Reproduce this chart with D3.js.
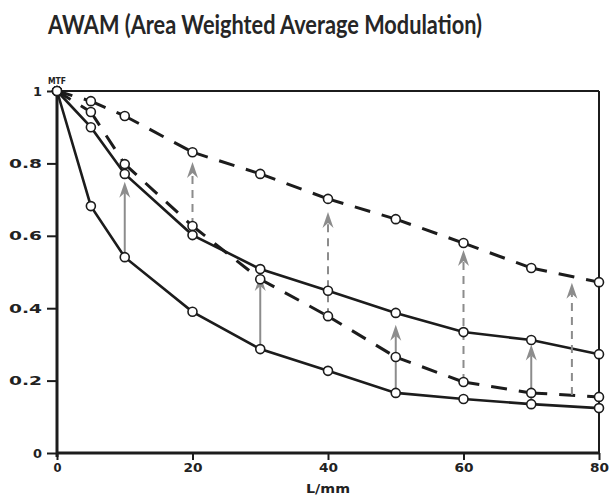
<!DOCTYPE html>
<html>
<head>
<meta charset="utf-8">
<script src="https://cdn.jsdelivr.net/npm/d3@7"></script>
<style>
  html, body { margin: 0; padding: 0; background: #fff; }
  svg { display: block; }
</style>
</head>
<body>
<svg id="chart" width="609" height="495"></svg>
<script>
// ---- data ----
const freqs = [0, 5, 10, 20, 30, 40, 50, 60, 70, 80];
const upperDashed = [1, 0.972, 0.931, 0.831, 0.771, 0.702, 0.646, 0.580, 0.511, 0.472];
const middleDashed = [1, 0.942, 0.798, 0.627, 0.480, 0.378, 0.265, 0.196, 0.166, 0.155];
const upperSolid = [1, 0.900, 0.771, 0.602, 0.508, 0.448, 0.387, 0.334, 0.312, 0.273];
const lowerSolid = [1, 0.682, 0.541, 0.390, 0.287, 0.227, 0.166, 0.149, 0.135, 0.124];

const solidArrowX = [10, 30, 50, 70];
const solidArrowFrom = [0.541, 0.287, 0.166, 0.135];
const solidArrowTo = [0.749, 0.492, 0.354, 0.300];
const dashedArrowX = [20, 40, 60, 76];
const dashedArrowFrom = [0.627, 0.378, 0.196, 0.160];
const dashedArrowTo = [0.804, 0.666, 0.561, 0.470];

const xTicks = [0, 20, 40, 60, 80];
const yTicks = [0, 0.2, 0.4, 0.6, 0.8, 1];
const yTickLabels = ["0", "0.2", "0.4", "0.6", "0.8", "1"];
const titleText = "AWAM (Area Weighted Average Modulation)";
const xLabel = "L/mm";
const yLabel = "MTF";

// ---- setup ----
const svg = d3.select("#chart");
const ink = "#1c1c1c";
const gray = "#8c8c8c";
const x = d3.scaleLinear().domain([0, 80]).range([57, 599]);
const y = d3.scaleLinear().domain([0, 1]).range([453, 91]);

// title
svg.append("text")
  .attr("x", 48).attr("y", 34)
  .attr("textLength", 434).attr("lengthAdjust", "spacingAndGlyphs")
  .style("font-family", "Lato, 'DejaVu Sans', sans-serif")
  .style("font-weight", "700").style("font-size", "26px")
  .attr("fill", "#262626")
  .text(titleText);

// frame top/right
svg.append("line").attr("x1", x(0)).attr("x2", x(80)).attr("y1", y(1)).attr("y2", y(1))
  .attr("stroke", ink).attr("stroke-width", 2);
svg.append("line").attr("x1", x(80)).attr("x2", x(80)).attr("y1", y(1)).attr("y2", y(0))
  .attr("stroke", ink).attr("stroke-width", 2);

// y axis
const yAxis = d3.axisLeft(y).tickValues(yTicks)
  .tickFormat((d, i) => yTickLabels[i]).tickSize(10).tickPadding(5);
const gy = svg.append("g").attr("transform", `translate(${x(0)},0)`).call(yAxis);
gy.select(".domain").attr("stroke", ink).attr("stroke-width", 3)
  .attr("d", `M0,${y(1)}V${y(0) + 4}`);
gy.selectAll(".tick line").attr("stroke", ink).attr("stroke-width", 2);
gy.selectAll(".tick text")
  .style("font-family", "'DejaVu Sans', sans-serif")
  .style("font-weight", "700").style("font-size", "13px")
  .attr("fill", "#222")
  .attr("textLength", (d, i) => yTickLabels[i].length === 1 ? 9 : 33)
  .attr("lengthAdjust", "spacingAndGlyphs");

// x axis
const xAxis = d3.axisBottom(x).tickValues(xTicks).tickFormat(d3.format("d"))
  .tickSize(7).tickPadding(3);
const gx = svg.append("g").attr("transform", `translate(0,${y(0)})`).call(xAxis);
gx.select(".domain").attr("stroke", ink).attr("stroke-width", 3)
  .attr("d", `M${x(0)},0H${x(80)}`);
gx.selectAll(".tick line").attr("stroke", ink).attr("stroke-width", 2);
gx.selectAll(".tick text")
  .style("font-family", "'DejaVu Sans', sans-serif")
  .style("font-weight", "700").style("font-size", "12px")
  .attr("fill", "#222")
  .attr("textLength", d => String(d).length === 1 ? 8 : 19)
  .attr("lengthAdjust", "spacingAndGlyphs");

// axis labels
svg.append("text").attr("x", 328).attr("y", 493).attr("text-anchor", "middle")
  .attr("textLength", 44).attr("lengthAdjust", "spacingAndGlyphs")
  .style("font-family", "'DejaVu Sans', sans-serif")
  .style("font-weight", "700").style("font-size", "13px").attr("fill", "#222")
  .text(xLabel);
svg.append("text").attr("x", 57).attr("y", 84).attr("text-anchor", "middle")
  .attr("textLength", 18).attr("lengthAdjust", "spacingAndGlyphs")
  .style("font-family", "'DejaVu Sans', sans-serif")
  .style("font-weight", "700").style("font-size", "9px").attr("fill", "#222")
  .text(yLabel);

// series
const series = [
  { vals: upperDashed, dashed: true },
  { vals: middleDashed, dashed: true },
  { vals: upperSolid, dashed: false },
  { vals: lowerSolid, dashed: false }
];
const gLines = svg.append("g");
series.forEach(s => {
  if (s.dashed) {
    for (let i = 0; i < freqs.length - 1; i++) {
      gLines.append("line")
        .attr("x1", x(freqs[i])).attr("y1", y(s.vals[i]))
        .attr("x2", x(freqs[i + 1])).attr("y2", y(s.vals[i + 1]))
        .attr("stroke", ink).attr("stroke-width", 3)
        .attr("stroke-dasharray", "16,12");
    }
  } else {
    gLines.append("path")
      .datum(freqs.map((f, i) => [f, s.vals[i]]))
      .attr("d", d3.line().x(d => x(d[0])).y(d => y(d[1])))
      .attr("fill", "none").attr("stroke", ink).attr("stroke-width", 2.6);
  }
});

// arrows (under the circles)
const headPath = "M0,0 L5.5,16 L0,11 L-5.5,16 Z";
function drawArrows(xs, from, to, dashed) {
  const g = svg.append("g");
  xs.forEach((xv, i) => {
    g.append("line")
      .attr("x1", x(xv)).attr("x2", x(xv))
      .attr("y1", y(from[i])).attr("y2", y(to[i]) + 11)
      .attr("stroke", gray).attr("stroke-width", 2)
      .attr("stroke-dasharray", dashed ? "8,6" : null);
    g.append("path")
      .attr("d", headPath)
      .attr("transform", `translate(${x(xv)},${y(to[i])})`)
      .attr("fill", gray);
  });
}
drawArrows(solidArrowX, solidArrowFrom, solidArrowTo, false);
drawArrows(dashedArrowX, dashedArrowFrom, dashedArrowTo, true);

// circles
series.forEach(s => {
  svg.append("g").selectAll("circle")
    .data(freqs.map((f, i) => [f, s.vals[i]]))
    .join("circle")
    .attr("cx", d => x(d[0])).attr("cy", d => y(d[1])).attr("r", 4.5)
    .attr("fill", "#fff").attr("stroke", ink).attr("stroke-width", 1.6);
});
</script>
</body>
</html>
